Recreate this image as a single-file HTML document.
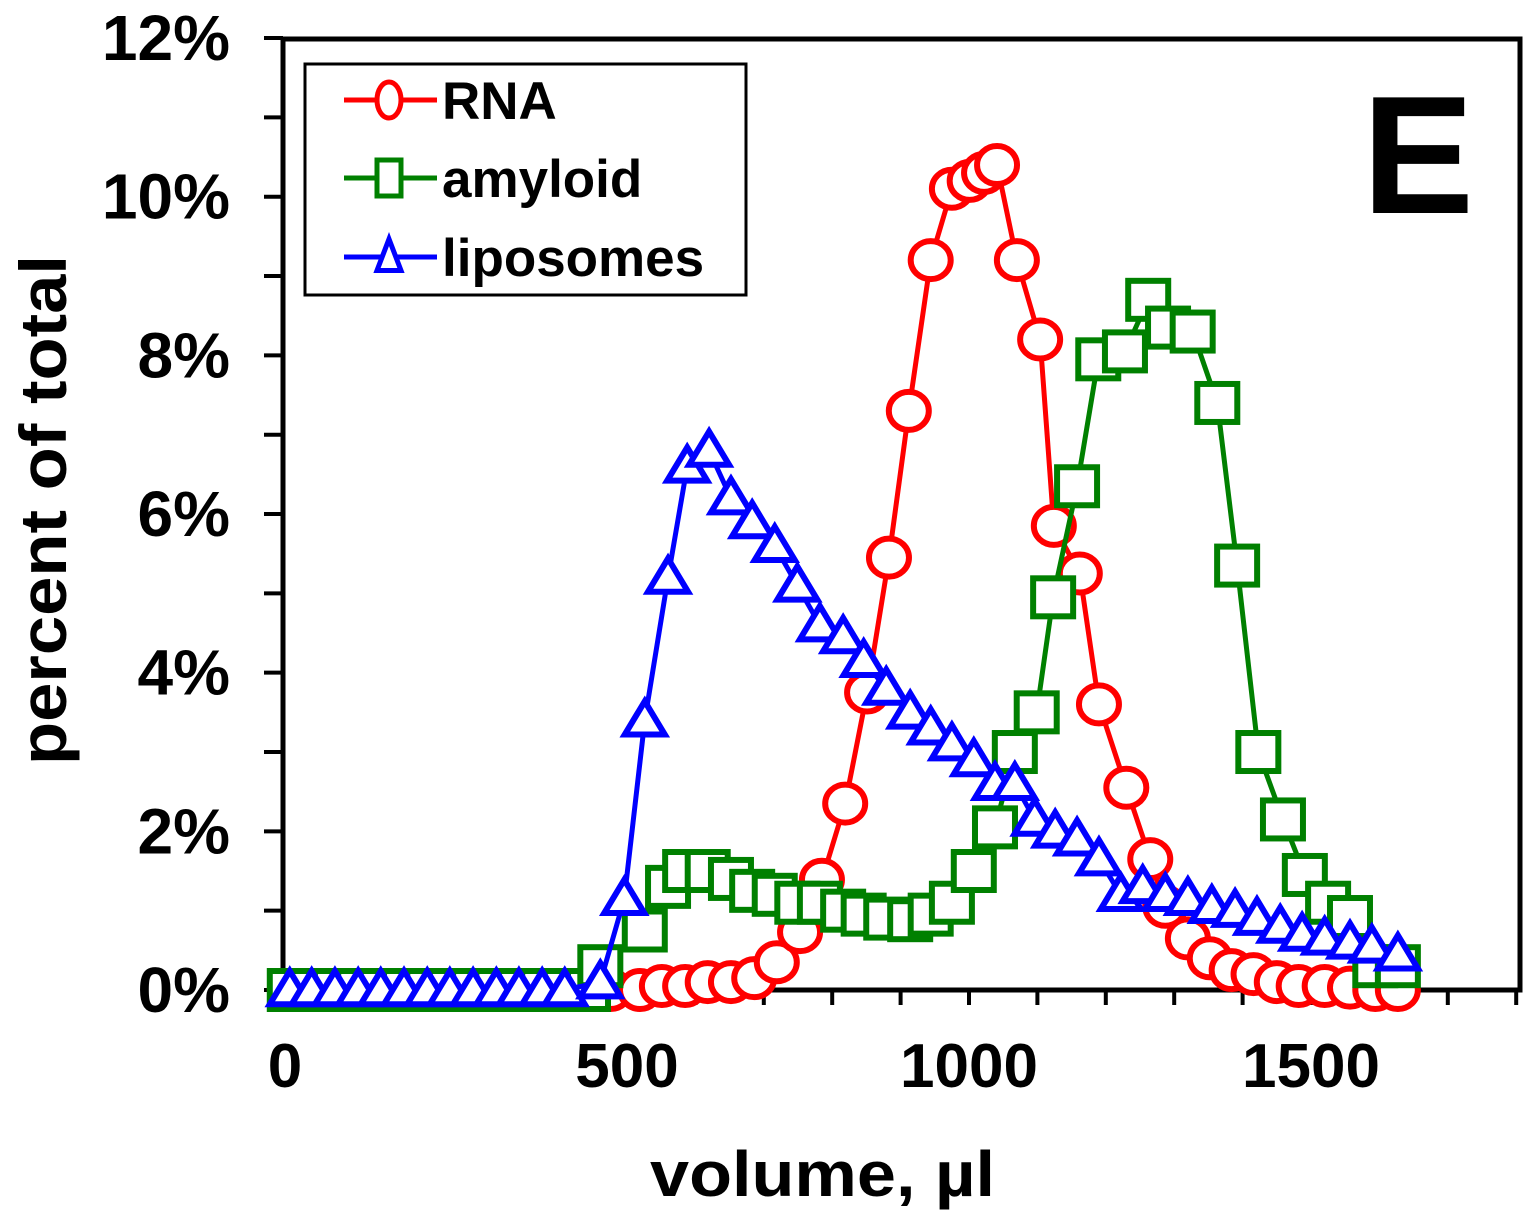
<!DOCTYPE html>
<html><head><meta charset="utf-8"><style>
html,body{margin:0;padding:0;background:#fff;}
svg{display:block;font-family:"Liberation Sans",Arial,sans-serif;font-weight:bold;}
</style></head><body>
<svg id="chart" width="1540" height="1227" viewBox="0 0 1540 1227" xmlns="http://www.w3.org/2000/svg">
<g id="axes"></g>
<g id="series"></g>
<g id="legend">
 <rect x="305" y="64" width="441" height="231" fill="#fff" stroke="#000" stroke-width="3"/>
</g>
<text x="1362" y="213" font-size="168" fill="#000">E</text>
<text x="650" y="1196" font-size="64" textLength="345" lengthAdjust="spacingAndGlyphs" fill="#000">volume, µl</text>
<text transform="translate(66,765) rotate(-90)" font-size="66" textLength="510" lengthAdjust="spacingAndGlyphs" fill="#000">percent of total</text>
</svg>
<script>
const xTicks = [0, 500, 1000, 1500];
const yTicks = [0, 2, 4, 6, 8, 10, 12];
const yTickLabels = ["0%", "2%", "4%", "6%", "8%", "10%", "12%"];

const rnaVol = [7,39,73,107,140,174,208,241,275,309,342,376,409,443,476,519,551,585,618,652,686,719,753,785,819,851,883,912,944,975,1001,1022,1041,1070,1104,1124,1162,1190,1230,1265,1287,1320,1352,1384,1416,1450,1482,1520,1557,1594,1627];
const rnaVal = [0,0,0,0,0,0,0,0,0,0,0,0,0,0,0,0,0.05,0.05,0.1,0.1,0.15,0.35,0.73,1.39,2.35,3.75,5.45,7.3,9.2,10.1,10.2,10.3,10.4,9.2,8.2,5.85,5.25,3.6,2.55,1.65,1.05,0.65,0.4,0.25,0.2,0.1,0.05,0.05,0.03,0,0];

const amyVol = [7,39,73,107,140,174,208,241,275,309,342,376,409,443,461,526,560,585,618,652,683,716,749,782,816,846,879,914,944,975,1007,1038,1067,1099,1123,1158,1189,1228,1262,1291,1327,1363,1392,1423,1459,1491,1525,1557,1594,1627];
const amyVal = [0,0,0,0,0,0,0,0,0,0,0,0,0,0,0.3,0.75,1.3,1.5,1.5,1.4,1.25,1.2,1.1,1.1,1.0,0.95,0.9,0.88,0.95,1.1,1.5,2.05,3.0,3.5,4.95,6.35,7.95,8.05,8.7,8.35,8.3,7.4,5.35,3.0,2.15,1.45,1.1,0.92,0.3,0.3];

const lipVol = [7,39,73,107,140,174,208,241,275,309,342,376,409,461,496,526,560,588,620,652,683,716,749,782,816,846,879,914,944,975,1007,1038,1067,1096,1126,1158,1190,1222,1254,1287,1320,1355,1389,1421,1455,1487,1520,1557,1589,1627];
const lipVal = [0,0,0,0,0,0,0,0,0,0,0,0,0,0.1,1.15,3.4,5.2,6.6,6.8,6.2,5.9,5.6,5.1,4.6,4.45,4.15,3.8,3.5,3.3,3.1,2.9,2.6,2.6,2.15,2.0,1.9,1.65,1.2,1.3,1.2,1.15,1.05,1.0,0.9,0.8,0.7,0.65,0.6,0.55,0.45];

const NS = "http://www.w3.org/2000/svg";
const X0 = 285, XS = 0.684, Y0 = 990, YS = 79.33;
function sx(v){ return X0 + v * XS; }
function sy(v){ return Y0 - v * YS; }
function mk(tag, attrs, parent){
  const e = document.createElementNS(NS, tag);
  for (const k in attrs) e.setAttribute(k, attrs[k]);
  parent.appendChild(e);
  return e;
}
const axes = document.getElementById('axes');
const frame = mk('rect', {x:283, y:39, width:1237, height:951, fill:'none', stroke:'#000', 'stroke-width':5}, axes);


for (let v = 0; v <= 12; v++) {
  const t = mk('line', {x1:264, x2:283, y1:sy(v), y2:sy(v), stroke:'#000', 'stroke-width':4}, axes);
  
  
}
yTicks.forEach((v, i) => {
  const t = mk('text', {x:230, y:sy(v) + 22, 'font-size':64, 'text-anchor':'end', fill:'#000'}, axes);
  t.textContent = yTickLabels[i];
  
  
});
for (let v = 0; v <= 1800; v += 100) {
  const t = mk('line', {x1:sx(v), x2:sx(v), y1:990, y2:1005, stroke:'#000', 'stroke-width':4}, axes);
  
  
}
xTicks.forEach(v => {
  const t = mk('text', {x:sx(v), y:1087, 'font-size':62, 'text-anchor':'middle', fill:'#000'}, axes);
  t.textContent = String(v);
  
  
});

const seriesG = document.getElementById('series');
function marker(type, x, y, color, parent, w, h, sw){
  let e;
  if (type === 'circle') e = mk('ellipse', {cx:x, cy:y, rx:w, ry:h, fill:'#fff', stroke:color, 'stroke-width':sw}, parent);
  else if (type === 'square') e = mk('rect', {x:x-w, y:y-h, width:2*w, height:2*h, fill:'#fff', stroke:color, 'stroke-width':sw}, parent);
  else e = mk('polygon', {points:`${x},${y-h} ${x+w},${y+h*0.75} ${x-w},${y+h*0.75}`, fill:'#fff', stroke:color, 'stroke-width':sw, 'stroke-linejoin':'miter'}, parent);
  return e;
}
function drawSeries(name, vols, vals, color, type){
  const g = mk('g', {}, seriesG);
  
  
  const pts = vols.map((v, i) => sx(v) + ',' + sy(vals[i])).join(' ');
  const l = mk('polyline', {points:pts, fill:'none', stroke:color, 'stroke-width':5}, g);
  
  
  vols.forEach((v, i) => {
    const m = marker(type, sx(v), sy(vals[i]), color, g, 20, 19, 6);
    
    
  });
}
drawSeries('rna', rnaVol, rnaVal, '#ff0000', 'circle');
drawSeries('amyloid', amyVol, amyVal, '#008000', 'square');
drawSeries('liposomes', lipVol, lipVal, '#0000ff', 'triangle');

const legend = document.getElementById('legend');
const entries = [['RNA','#ff0000','circle',100],['amyloid','#008000','square',178],['liposomes','#0000ff','triangle',257]];
entries.forEach(en => {
  const g = mk('g', {}, legend);
  
  
  mk('line', {x1:344, x2:437, y1:en[3], y2:en[3], stroke:en[1], 'stroke-width':5}, g);
  marker(en[2], 389, en[3], en[1], g, 12, 18, 5);
  const t = mk('text', {x:442, y:en[3] + 19, 'font-size':53, fill:'#000'}, g);
  t.textContent = en[0];
});
</script>
</body></html>
